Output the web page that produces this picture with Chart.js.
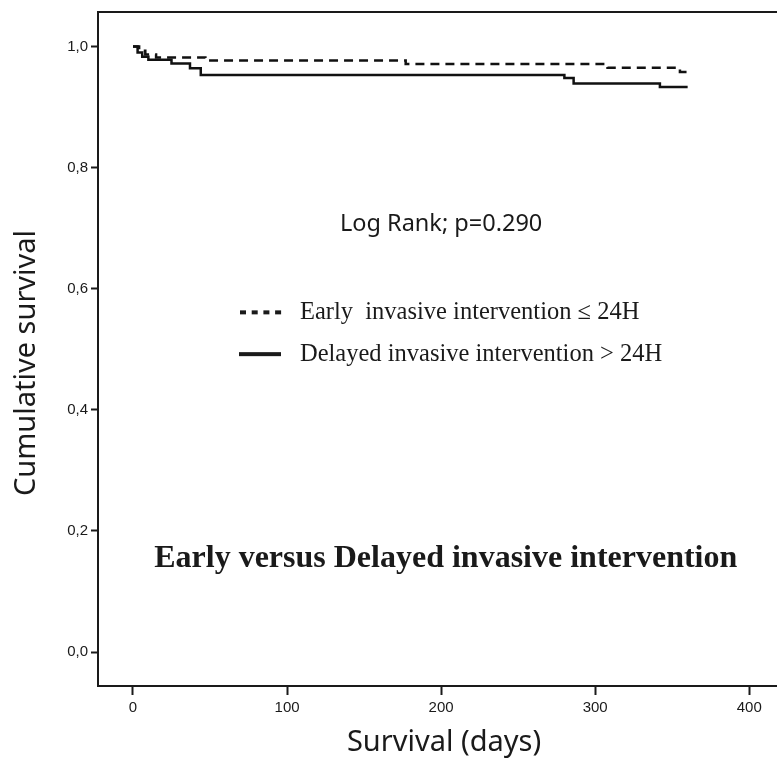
<!DOCTYPE html>
<html>
<head>
<meta charset="utf-8">
<script src="https://cdn.jsdelivr.net/npm/chart.js@4.4.1/dist/chart.umd.min.js"></script>
<style>
  html, body { margin: 0; padding: 0; background: #fff; }
  canvas { display: block; }
</style>
</head>
<body>
<canvas id="kmChart" width="777" height="765"></canvas>
<script>
// Kaplan-Meier steps (day, cumulative survival)
const earlyDays = [0, 4, 8, 15, 47, 177, 308, 355, 360];
const earlySurv = [1.0, 0.993, 0.987, 0.982, 0.977, 0.971, 0.965, 0.958, 0.958];
const delayedDays = [0, 3, 6, 10, 25, 37, 44, 280, 286, 342, 360];
const delayedSurv = [1.0, 0.99, 0.983, 0.978, 0.972, 0.964, 0.953, 0.948, 0.939, 0.933, 0.933];

const xTicks = [0, 100, 200, 300, 400];
const yTicks = [0, 0.2, 0.4, 0.6, 0.8, 1.0];

const seriesNames = ['Early  invasive intervention \u2264 24H', 'Delayed invasive intervention > 24H'];

const tickFont = { family: '"Liberation Sans", Arial, sans-serif', size: 15 };
const ink = '#1a1a1a';

function toPoints(days, surv) {
  return days.map((d, i) => ({ x: d, y: surv[i] }));
}

// frame top line, axis titles, annotation and hand-made legend
const extrasPlugin = {
  id: 'extras',
  afterDraw(chart) {
    const ctx = chart.ctx;
    const area = chart.chartArea;
    const xs = chart.scales.x;
    const ys = chart.scales.y;
    ctx.save();
    ctx.strokeStyle = ink;
    ctx.lineWidth = 2;
    ctx.beginPath();
    ctx.moveTo(area.left, area.top);
    ctx.lineTo(area.right, area.top);
    ctx.stroke();

    ctx.fillStyle = ink;
    ctx.textBaseline = 'middle';

    // axis titles
    ctx.font = '29px "Noto Sans", sans-serif';
    ctx.textAlign = 'center';
    ctx.fillText('Survival (days)', 444, 743);
    ctx.save();
    ctx.translate(27, 363);
    ctx.rotate(-Math.PI / 2);
    ctx.fillText('Cumulative survival', 0, 0);
    ctx.restore();

    // log rank note
    ctx.font = '23.5px "Noto Sans", sans-serif';
    ctx.fillText('Log Rank; p=0.290', xs.getPixelForValue(200), ys.getPixelForValue(0.707));

    // bold caption
    ctx.font = 'bold 32px "Liberation Serif", "Times New Roman", serif';
    ctx.fillText('Early versus Delayed invasive intervention', xs.getPixelForValue(203), ys.getPixelForValue(0.154));

    // legend
    ctx.textAlign = 'left';
    ctx.font = '24.5px "Liberation Serif", "Times New Roman", serif';
    const yEarly = ys.getPixelForValue(0.561);
    const yDelayed = ys.getPixelForValue(0.492);
    for (let i = 0; i < 4; i++) {
      ctx.fillRect(240 + i * 11.7, yEarly - 2, 6, 4);
    }
    ctx.fillRect(239, yDelayed - 2, 42, 4);
    ctx.fillText(seriesNames[0], 300, yEarly);
    ctx.fillText(seriesNames[1], 300, yDelayed);
    ctx.restore();
  }
};

const data = {
  datasets: [
    {
      label: seriesNames[0],
      data: toPoints(earlyDays, earlySurv),
      borderColor: '#111',
      borderWidth: 2.5,
      borderDash: [9, 6],
      stepped: true,
      pointRadius: 0,
      fill: false
    },
    {
      label: seriesNames[1],
      data: toPoints(delayedDays, delayedSurv),
      borderColor: '#111',
      borderWidth: 2.5,
      stepped: true,
      pointRadius: 0,
      fill: false
    }
  ]
};

const config = {
  type: 'line',
  data: data,
  options: {
    responsive: false,
    animation: false,
    devicePixelRatio: 1,
    layout: { padding: { top: 8, left: 0, right: 0, bottom: 0 } },
    plugins: {
      legend: { display: false },
      tooltip: { enabled: false }
    },
    scales: {
      x: {
        type: 'linear',
        min: -22.7,
        max: 418,
        afterBuildTicks: s => { s.ticks = xTicks.map(v => ({ value: v })); },
        afterFit: s => { s.height = 79; },
        grid: { drawOnChartArea: false, drawTicks: true, tickLength: 9, tickColor: ink, tickWidth: 2 },
        border: { display: true, color: ink, width: 2 },
        ticks: { font: tickFont, color: ink, padding: 4, maxRotation: 0, autoSkip: false }
      },
      y: {
        type: 'linear',
        min: -0.056,
        max: 1.057,
        afterBuildTicks: s => { s.ticks = yTicks.map(v => ({ value: v })); },
        afterFit: s => { s.width = 98; },
        grid: { drawOnChartArea: false, drawTicks: true, tickLength: 7, tickColor: ink, tickWidth: 2 },
        border: { display: true, color: ink, width: 2 },
        ticks: {
          font: tickFont,
          color: ink,
          padding: 3,
          callback: v => v.toFixed(1).replace('.', ',')
        }
      }
    }
  },
  plugins: [extrasPlugin]
};

const ctx = document.getElementById('kmChart').getContext('2d');
new Chart(ctx, config);
</script>
</body>
</html>
